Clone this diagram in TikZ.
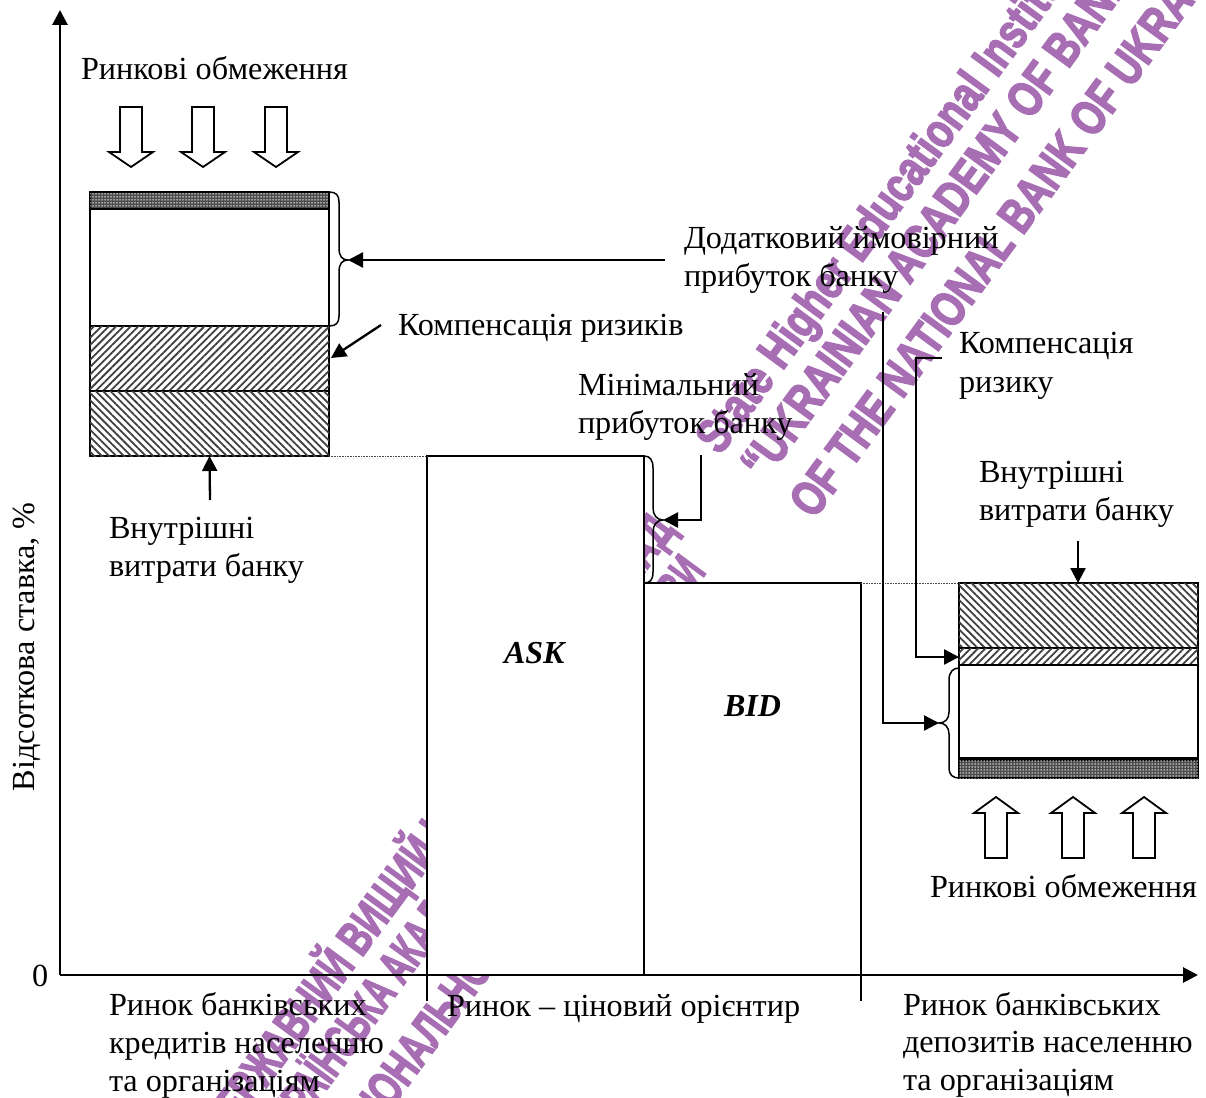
\documentclass[tikz,border=0pt]{standalone}
\usepackage{fontspec}
\setmainfont{Liberation Serif}
\newfontfamily\wmfont{Liberation Sans}[FakeBold=3.4]
\usetikzlibrary{arrows.meta,patterns.meta}
\definecolor{wm}{RGB}{168,110,180}
\tikzset{
  x=1pt,y=-1pt,
  lbl/.style={inner sep=0pt,outer sep=0pt,anchor=base west,align=left,yshift=-1pt,font=\fontsize{32.2}{38}\selectfont},
  ital/.style={inner sep=0pt,outer sep=0pt,anchor=base west,font=\fontsize{32}{38}\selectfont\bfseries\itshape},
  wmtext/.style={inner sep=0pt,outer sep=0pt,anchor=base west,text=wm,rotate=53.7,xscale=.83,transform shape,font=\fontsize{49}{49}\selectfont\wmfont\bfseries},
  wmend/.style={wmtext,anchor=base east},
  ax/.style={line width=2.8pt,-{Triangle[length=15pt,width=15pt]}},
  conn/.style={line width=2.3pt,-{Triangle[length=15pt,width=15pt]}},
  plain/.style={line width=2.2pt},
  brc/.style={line width=1.5pt},
  guide/.style={line width=.6pt,densely dotted,black!70},
  bar/.style={draw=black,line width=1.8pt,fill=white,inner sep=0pt,outer sep=0pt,minimum width=239pt,anchor=north west},
  hne/.style={bar,postaction={pattern={Lines[angle=45,distance=5.2pt,line width=1.8pt]},pattern color=black!75}},
  hnw/.style={bar,postaction={pattern={Lines[angle=-45,distance=5.2pt,line width=1.8pt]},pattern color=black!75}},
  dts/.style={bar,fill=black!70,postaction={pattern={Dots[radius=.75pt,distance=3pt]},pattern color=white}},
  mkt/.style={draw=black,line width=2pt,fill=white,inner sep=0pt,outer sep=0pt,anchor=north west},
  hollow/.style={draw=black,line width=1.8pt,fill=white},
}
\newcommand{\hdown}[1]{\path[hollow,shift={(#1)}] (-11,0) -- (11,0) -- (11,45) -- (22,45) -- (0,60) -- (-22,45) -- (-11,45) -- cycle;}
\newcommand{\hup}[1]{\path[hollow,shift={(#1)}] (-11,0) -- (11,0) -- (11,-45) -- (22,-45) -- (0,-61) -- (-22,-45) -- (-11,-45) -- cycle;}
\begin{document}
\begin{tikzpicture}
\useasboundingbox (0,0) rectangle (1206,1097);
\clip (0,0) rectangle (1206,1097);
% watermark
\coordinate (wa) at (720,456);
\coordinate (wb) at (765,482);
\coordinate (wc) at (814,520);
\coordinate (wd) at (676,530);
\coordinate (we) at (707,572);
\coordinate (wf) at (342,1176);
\node[wmtext,xscale=.95] (w1) at (wa) {State Higher Educational Institution};
\node[wmtext,xscale=.94] (w2) at (wb) {“UKRAINIAN ACADEMY OF BANKING”};
\node[wmtext,xscale=.93] (w3) at (wc) {OF THE NATIONAL BANK OF UKRAINE};
\node[wmend,xscale=.83] (w4) at (wd) {ДЕРЖАВНИЙ ВИЩИЙ НАВЧАЛЬНИЙ ЗАКЛАД};
\node[wmend,xscale=.75] (w5) at (we) {«УКРАЇНСЬКА АКАДЕМІЯ БАНКІВСЬКОЇ СПРАВИ};
\node[wmtext,xscale=.83] (w6) at (wf) {НАЦІОНАЛЬНОГО БАНКУ УКРАЇНИ»};
% market boxes
\node[mkt,minimum width=217pt,minimum height=519pt] (ask) at (427,456) {};
\node[mkt,minimum width=217pt,minimum height=392pt] (bid) at (644,583) {};
\node[ital] (asklbl) at (504,663) {ASK};
\node[ital] (bidlbl) at (724,716) {BID};
% axes
\coordinate (orig) at (60,975);
\coordinate (yend) at (60,10);
\coordinate (xend) at (1198,975);
\draw[ax] (orig) -- (yend);
\draw[ax] (orig) -- (xend);
\coordinate (t1) at (427,1001);
\coordinate (t2) at (861,1001);
\draw[plain] (ask.south west) -- (t1);
\draw[plain] (bid.south east) -- (t2);
% left stack
\node[dts,minimum height=17pt] (l1) at (90,192) {};
\node[bar,minimum height=117pt] (l2) at (90,209) {};
\node[hne,minimum height=65pt] (l3) at (90,326) {};
\node[hnw,minimum height=65pt] (l4) at (90,391) {};
% right stack
\node[hnw,minimum height=65pt] (r1) at (959,583) {};
\node[hne,minimum height=17pt] (r2) at (959,648) {};
\node[bar,minimum height=93pt] (r3) at (959,665) {};
\node[dts,minimum height=18pt] (r4) at (959,760) {};
% guides
\draw[guide] (l4.south east) -- (ask.north west);
\draw[guide] (bid.north east) -- (r1.north west);
% hollow arrows
\hdown{131,107}\hdown{203,107}\hdown{276,107}
\hup{996,858}\hup{1073,858}\hup{1144,858}
% braces
\coordinate (b1tip) at (348,260);
\draw[brc] (l1.north east) .. controls (336,192) and (339,195) .. (339,202) -- (339,248)
  .. controls (339,256) and (342,260) .. (b1tip) .. controls (342,260) and (339,264) .. (339,272)
  -- (339,316) .. controls (339,323) and (336,326) .. (l2.south east);
\coordinate (b2tip) at (663,520);
\draw[brc] (ask.north east) .. controls (650,456) and (653,460) .. (653,468) -- (653,508)
  .. controls (653,515) and (657,520) .. (b2tip) .. controls (657,520) and (653,525) .. (653,532)
  -- (653,572) .. controls (653,580) and (650,583) .. (bid.north west);
\coordinate (b3tip) at (939,723);
\draw[brc] (r3.north west) ++(0,3) .. controls (953,668) and (949,672) .. (949,680) -- (949,712)
  .. controls (949,719) and (945,723) .. (b3tip) .. controls (945,723) and (949,727) .. (949,734)
  -- (949,768) .. controls (949,775) and (953,778) .. (r4.south west);
% labels
\node[lbl] (t01) at (81,79) {Ринкові обмеження};
\node[lbl] (t02) at (398,334) {Компенсація ризиків};
\node[lbl] (t03) at (684,247) {Додатковий ймовірний};
\node[lbl] (t04) at (684,285) {прибуток банку};
\node[lbl] (t05) at (578,394) {Мінімальний};
\node[lbl] (t06) at (578,432) {прибуток банку};
\node[lbl] (t07) at (959,352) {Компенсація};
\node[lbl] (t08) at (959,391) {ризику};
\node[lbl] (t09) at (979,481) {Внутрішні};
\node[lbl] (t10) at (979,519) {витрати банку};
\node[lbl] (t11) at (109,537) {Внутрішні};
\node[lbl] (t12) at (109,575) {витрати банку};
\node[lbl] (t13) at (930,896) {Ринкові обмеження};
\node[lbl] (t14) at (109,1014) {Ринок банківських};
\node[lbl] (t15) at (109,1052) {кредитів населенню};
\node[lbl] (t16) at (109,1090) {та організаціям};
\node[lbl] (t17) at (447,1015) {Ринок – ціновий орієнтир};
\node[lbl] (t18) at (903,1014) {Ринок банківських};
\node[lbl] (t19) at (903,1051) {депозитів населенню};
\node[lbl] (t20) at (903,1089) {та організаціям};
\node[lbl] (t21) at (32,985) {0};
\coordinate (yl) at (35,790);
\node[lbl,rotate=90,yshift=1pt] (t22) at (yl) {Відсоткова ставка, \%};
% connectors
\coordinate (c1s) at (665,260);
\draw[conn] (c1s) -- (b1tip);
\coordinate (c2s) at (381,325);
\coordinate (c2e) at (331,358);
\draw[conn] (c2s) -- (c2e);
\coordinate (c3s) at (210,500);
\draw[conn] (c3s) -- (l4.south);
\coordinate (c4s) at (701,455);
\draw[conn] (c4s) |- (b2tip);
\coordinate (c5s) at (883,312);
\draw[conn] (c5s) |- (b3tip);
\coordinate (c6s) at (942,358);
\coordinate (c6m) at (916,358);
\coordinate (c6e) at (959,657);
\draw[conn] (c6s) -- (c6m) |- (c6e);
\coordinate (c7s) at (1078,541);
\coordinate (c7e) at (1078,583);
\draw[conn] (c7s) -- (c7e);
\end{tikzpicture}
\end{document}
